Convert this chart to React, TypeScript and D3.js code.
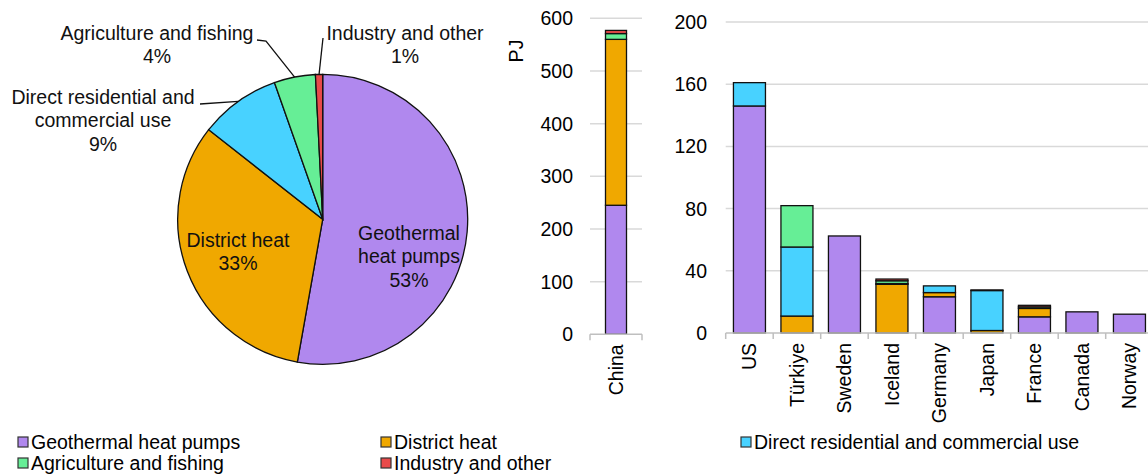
import * as d3 from "d3";

const seriesNames = [
  "Geothermal heat pumps",
  "District heat",
  "Direct residential and commercial use",
  "Agriculture and fishing",
  "Industry and other",
];
const seriesColors = ["#b088ee", "#f0a800", "#48d2ff", "#66ee96", "#e84a4a"];

// pie shares (%)
const pieShares = [52.8, 32.8, 9.0, 4.6, 0.8];
const pieLabels = ["53%", "33%", "9%", "4%", "1%"];

// China (PJ)
const chinaCategories = ["China"];
const chinaHeatPumps = [245];
const chinaDistrict = [315];
const chinaDirect = [0];
const chinaAgriculture = [11];
const chinaIndustry = [6];

// other countries (PJ)
const countries = ["US", "Türkiye", "Sweden", "Iceland", "Germany", "Japan", "France", "Canada", "Norway"];
const heatPumps = [146, 0, 62.4, 0, 23.3, 0, 10.4, 13.6, 12.1];
const districtHeat = [0, 10.9, 0, 31.3, 2.7, 1.6, 5.4, 0, 0];
const directUse = [15, 44.4, 0, 0.5, 4.3, 25.7, 0, 0, 0];
const agriculture = [0, 26.6, 0, 1.8, 0, 0, 1, 0, 0];
const industry = [0, 0, 0, 1.1, 0, 0.4, 1, 0, 0];

const chinaTicks = [0, 100, 200, 300, 400, 500, 600];
const countryTicks = [0, 40, 80, 120, 160, 200];

const FONT = "'Liberation Sans', Arial, sans-serif";
const FS = 19.5;
const GRID = "#d9d9d9";
const AXIS = "#bfbfbf";

type Row = { cat: string; [k: string]: number | string };

function buildRows(cats: string[], cols: number[][]): Row[] {
  return cats.map((c, i) => {
    const r: Row = { cat: c };
    seriesNames.forEach((s, j) => (r[s] = cols[j][i]));
    return r;
  });
}

const StackedBars = ({
  rows,
  x0,
  x1,
  y0,
  yTop,
  maxV,
  ticks,
  labelX,
  padInner,
}: {
  rows: Row[];
  x0: number;
  x1: number;
  y0: number;
  yTop: number;
  maxV: number;
  ticks: number[];
  labelX: number;
  padInner: number;
}) => {
  const x = d3
    .scaleBand<string>()
    .domain(rows.map((r) => r.cat))
    .range([x0, x1])
    .paddingInner(padInner)
    .paddingOuter(padInner / 2);
  const y = d3.scaleLinear().domain([0, maxV]).range([y0, yTop]);
  const stack = d3.stack<Row>().keys(seriesNames).value((d, k) => d[k] as number);
  const layers = stack(rows);
  const step = x.step();

  return (
    <g>
      {ticks.map((t) => (
        <g key={`g-${t}`}>
          {t > 0 && <line x1={x0} x2={x1} y1={y(t)} y2={y(t)} stroke={GRID} strokeWidth={1.5} />}
          <text x={labelX} y={y(t)} dy="0.36em" textAnchor="end" fontSize={FS} fontFamily={FONT}>
            {t}
          </text>
        </g>
      ))}
      {layers.map((layer, li) =>
        layer.map((d, i) =>
          d[1] - d[0] > 0 ? (
            <rect
              key={`b-${li}-${i}`}
              x={x(d.data.cat)}
              y={y(d[1])}
              width={x.bandwidth()}
              height={y(d[0]) - y(d[1])}
              fill={seriesColors[li]}
              stroke="#111"
              strokeWidth={1.3}
            />
          ) : null
        )
      )}
      <line x1={x0} x2={x1} y1={y0} y2={y0} stroke={AXIS} strokeWidth={1.5} />
      {d3.range(rows.length + 1).map((i) => (
        <line key={`t-${i}`} x1={x0 + i * step} x2={x0 + i * step} y1={y0} y2={y0 + 6} stroke={AXIS} strokeWidth={1.5} />
      ))}
      {rows.map((r) => (
        <text
          key={`c-${r.cat}`}
          transform={`translate(${(x(r.cat) ?? 0) + x.bandwidth() / 2},${y0 + 10}) rotate(-90)`}
          dy="0.36em"
          textAnchor="end"
          fontSize={FS}
          fontFamily={FONT}
        >
          {r.cat}
        </text>
      ))}
    </g>
  );
};

const PieChart = () => {
  const cx = 322.7;
  const cy = 219.3;
  const r = 145;
  const arcs = d3.pie<number>().sort(null)(pieShares);
  const arc = d3.arc<d3.PieArcDatum<number>>().innerRadius(0).outerRadius(r);
  const edge = d3.arc<d3.PieArcDatum<number>>().innerRadius(r).outerRadius(r);

  // text placement for each slice label: [x, y of first line, lines]
  const inside: Record<number, { x: number; y: number; lines: string[] }> = {
    0: { x: 409, y: 240, lines: ["Geothermal", "heat pumps"] },
    1: { x: 238, y: 247, lines: ["District heat"] },
  };
  const outside: Record<number, { x: number; y: number; lines: string[]; from: [number, number][] }> = {
    2: { x: 103, y: 104, lines: ["Direct residential and", "commercial use"], from: [[200, 104]] },
    3: { x: 157, y: 40, lines: ["Agriculture and fishing"], from: [[257, 40], [266, 41]] },
    4: { x: 405, y: 40, lines: ["Industry and other"], from: [[323, 38]] },
  };
  const lh = 23.3;

  return (
    <g>
      <g transform={`translate(${cx},${cy})`}>
        {arcs.map((a, i) => (
          <path key={`s-${i}`} d={arc(a) ?? ""} fill={seriesColors[i]} stroke="#111" strokeWidth={1.3} />
        ))}
      </g>
      {arcs.map((a, i) => {
        const lab = inside[i] ?? outside[i];
        const lines = [...lab.lines, pieLabels[i]];
        const o = outside[i];
        let leader = null;
        if (o) {
          const [ex, ey] = edge.centroid(a);
          const pts: [number, number][] = [...o.from, [cx + ex, cy + ey]];
          leader = <path d={d3.line()(pts) ?? ""} fill="none" stroke="#111" strokeWidth={1.3} />;
        }
        return (
          <g key={`l-${i}`}>
            {leader}
            <text x={lab.x} y={lab.y} textAnchor="middle" fontSize={FS} fontFamily={FONT} fill="#111">
              {lines.map((t, k) => (
                <tspan key={k} x={lab.x} dy={k === 0 ? 0 : lh}>
                  {t}
                </tspan>
              ))}
            </text>
          </g>
        );
      })}
    </g>
  );
};

const Legend = () => {
  const cols = [18, 381, 741];
  const rowsY = [442, 463];
  const pos = [
    [0, 0],
    [1, 0],
    [2, 0],
    [0, 1],
    [1, 1],
  ];
  return (
    <g>
      {seriesNames.map((s, i) => {
        const x = cols[pos[i][0]];
        const y = rowsY[pos[i][1]];
        return (
          <g key={s}>
            <rect x={x} y={y - 5} width={10} height={10} fill={seriesColors[i]} stroke="#333" strokeWidth={1.2} />
            <text x={x + 13} y={y} dy="0.36em" fontSize={FS} fontFamily={FONT}>
              {s}
            </text>
          </g>
        );
      })}
    </g>
  );
};

export default function App() {
  const chinaRows = buildRows(chinaCategories, [chinaHeatPumps, chinaDistrict, chinaDirect, chinaAgriculture, chinaIndustry]);
  const countryRows = buildRows(countries, [heatPumps, districtHeat, directUse, agriculture, industry]);
  return (
    <svg width={1148} height={475} style={{ position: "absolute", left: 0, top: 0, background: "#fff" }}>
      <PieChart />
      <StackedBars
        rows={chinaRows}
        x0={590}
        x1={642}
        y0={334.3}
        yTop={18.3}
        maxV={600}
        ticks={chinaTicks}
        labelX={573}
        padInner={0.596}
      />
      <text transform="translate(516,51) rotate(-90)" dy="0.36em" textAnchor="middle" fontSize={FS} fontFamily={FONT}>
        PJ
      </text>
      <StackedBars
        rows={countryRows}
        x0={725.7}
        x1={1153.2}
        y0={333}
        yTop={22}
        maxV={200}
        ticks={countryTicks}
        labelX={707}
        padInner={0.326}
      />
      <Legend />
    </svg>
  );
}
